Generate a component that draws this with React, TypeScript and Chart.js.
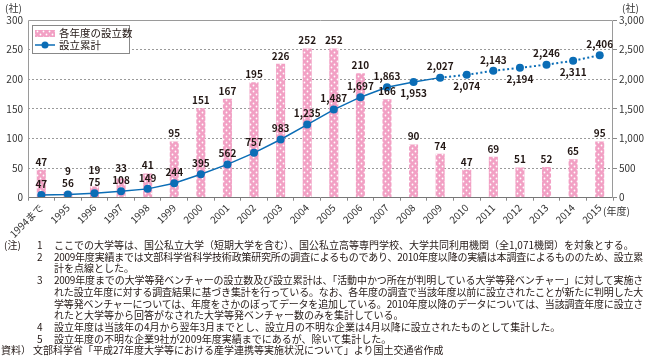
import React, { useEffect, useRef } from 'react';
import { Chart, registerables } from 'chart.js';

Chart.register(...registerables);

const categories = ['1994まで', '1995', '1996', '1997', '1998', '1999', '2000', '2001', '2002', '2003', '2004', '2005', '2006', '2007', '2008', '2009', '2010', '2011', '2012', '2013', '2014', '2015'];
const annualCounts = [47, 9, 19, 33, 41, 95, 151, 167, 195, 226, 252, 252, 210, 166, 90, 74, 47, 69, 51, 52, 65, 95];
const cumulativeCounts = [47, 56, 75, 108, 149, 244, 395, 562, 757, 983, 1235, 1487, 1697, 1863, 1953, 2027, 2074, 2143, 2194, 2246, 2311, 2406];
const leftAxis = { min: 0, max: 300, step: 50 };
const rightAxis = { min: 0, max: 3000, step: 500 };
const seriesNames = ['各年度の設立数', '設立累計'];
const dottedFromIndex = 15; // 2009年度以降は点線
const unitLabel = '(社)';
const xUnitLabel = '(年度)';

const noteLines: { mark?: string; num?: string; text: string }[] = [
  { mark: '(注)', num: '1', text: 'ここでの大学等は、国公私立大学（短期大学を含む）、国公私立高等専門学校、大学共同利用機関（全1,071機関）を対象とする。' },
  { num: '2', text: '2009年度実績までは文部科学省科学技術政策研究所の調査によるものであり、2010年度以降の実績は本調査によるもののため、設立累' },
  { text: '計を点線とした。' },
  { num: '3', text: '2009年度までの大学等発ベンチャーの設立数及び設立累計は、「活動中かつ所在が判明している大学等発ベンチャー」に対して実施さ' },
  { text: 'れた設立年度に対する調査結果に基づき集計を行っている。なお、各年度の調査で当該年度以前に設立されたことが新たに判明した大' },
  { text: '学等発ベンチャーについては、年度をさかのぼってデータを追加している。2010年度以降のデータについては、当該調査年度に設立さ' },
  { text: 'れたと大学等から回答がなされた大学等発ベンチャー数のみを集計している。' },
  { num: '4', text: '設立年度は当該年の4月から翌年3月までとし、設立月の不明な企業は4月以降に設立されたものとして集計した。' },
  { num: '5', text: '設立年度の不明な企業9社が2009年度実績までにあるが、除いて集計した。' },
];
const sourceLine = { mark: '資料）', text: '文部科学省「平成27年度大学等における産学連携等実施状況について」より国土交通省作成' };

const FONT = '"Noto Sans CJK JP", "Noto Sans", sans-serif';
const PINK = '#f2a0c4';
const BLUE = '#0b6db6';
const TEXT = '#231815';
const W = 648;
const H = 238;

const fmt = (v: number) => v.toLocaleString('en-US');

export default function App() {
  const ref = useRef<HTMLCanvasElement>(null);

  useEffect(() => {
    const canvas = ref.current!;
    const pc = document.createElement('canvas');
    pc.width = 6;
    pc.height = 6;
    const p = pc.getContext('2d')!;
    p.fillStyle = PINK;
    p.fillRect(0, 0, 6, 6);
    p.fillStyle = '#ffffff';
    p.beginPath();
    p.arc(1.5, 1.5, 0.9, 0, Math.PI * 2);
    p.arc(4.5, 4.5, 0.9, 0, Math.PI * 2);
    p.fill();
    const pattern = canvas.getContext('2d')!.createPattern(pc, 'repeat')!;

    const decor = {
      id: 'decor',
      afterDatasetsDraw(chart: any) {
        const { ctx, chartArea: a } = chart;
        ctx.save();
        ctx.strokeStyle = '#9a9a9a';
        ctx.lineWidth = 1;
        const L = Math.round(a.left) + 0.5, R = Math.round(a.right) - 0.5;
        const T = Math.round(a.top) + 0.5, B = Math.round(a.bottom) - 0.5;
        ctx.beginPath();
        ctx.moveTo(L, B); ctx.lineTo(L, T); ctx.lineTo(R, T); ctx.lineTo(R, B);
        ctx.stroke();
        ctx.strokeStyle = '#777';
        ctx.beginPath();
        ctx.moveTo(L, B); ctx.lineTo(R, B);
        ctx.stroke();

        const bars = chart.getDatasetMeta(0).data;
        const pts = chart.getDatasetMeta(1).data;
        ctx.font = `bold 10px ${FONT}`;
        ctx.fillStyle = TEXT;
        ctx.textAlign = 'center';
        ctx.textBaseline = 'middle';
        for (let i = 0; i < categories.length; i++) {
          const pt = pts[i];
          const below = i >= dottedFromIndex - 1 && i % 2 === 0;
          const lineLabelY = below ? pt.y + 11 : pt.y - 11;
          ctx.fillText(fmt(cumulativeCounts[i]), pt.x, lineLabelY);
          const bar = bars[i];
          let by = bar.y - 8;
          if (Math.abs(by - lineLabelY) < 12) by = lineLabelY - 12;
          ctx.fillText(fmt(annualCounts[i]), bar.x, by);
        }
        ctx.restore();
      },
      afterDraw(chart: any) {
        const { ctx, chartArea: a } = chart;
        ctx.save();
        ctx.font = `10px ${FONT}`;
        ctx.fillStyle = '#333';
        ctx.textBaseline = 'middle';
        ctx.textAlign = 'left';
        ctx.fillText(unitLabel, 5, 8);
        ctx.fillText(unitLabel, a.right + 9, 8);
        ctx.fillText(xUnitLabel, a.right - 10, a.bottom + 14);

        ctx.fillStyle = '#fff';
        ctx.fillRect(32, 25, 98, 29);
        ctx.strokeStyle = '#888';
        ctx.lineWidth = 1;
        ctx.strokeRect(32.5, 25.5, 97, 28);
        ctx.fillStyle = pattern;
        ctx.fillRect(35, 30, 20, 7);
        ctx.strokeStyle = BLUE;
        ctx.lineWidth = 1.5;
        ctx.beginPath();
        ctx.moveTo(35, 45); ctx.lineTo(55, 45);
        ctx.stroke();
        ctx.fillStyle = BLUE;
        ctx.beginPath();
        ctx.arc(45, 45, 3.5, 0, Math.PI * 2);
        ctx.fill();
        ctx.fillStyle = TEXT;
        ctx.font = `10.5px ${FONT}`;
        ctx.fillText(seriesNames[0], 59, 33.5);
        ctx.fillText(seriesNames[1], 59, 45);
        ctx.restore();
      },
    };

    const chart = new Chart(canvas, {
      type: 'bar',
      data: {
        labels: categories,
        datasets: [
          {
            type: 'bar',
            label: seriesNames[0],
            data: annualCounts,
            backgroundColor: pattern,
            borderWidth: 0,
            barPercentage: 0.34,
            categoryPercentage: 1,
            yAxisID: 'y',
            order: 2,
          } as any,
          {
            type: 'line',
            label: seriesNames[1],
            data: cumulativeCounts,
            borderColor: BLUE,
            backgroundColor: BLUE,
            borderWidth: 1.5,
            pointRadius: 4,
            pointBorderWidth: 0,
            pointBackgroundColor: BLUE,
            tension: 0,
            yAxisID: 'y1',
            order: 1,
            segment: {
              borderDash: (c: any) => (c.p0DataIndex >= dottedFromIndex ? [2, 2.5] : undefined),
              borderWidth: (c: any) => (c.p0DataIndex >= dottedFromIndex ? 2 : 1.5),
            },
          } as any,
        ],
      },
      options: {
        responsive: false,
        animation: false,
        layout: { padding: { top: 20, left: 0, right: 0, bottom: 0 } },
        plugins: { legend: { display: false }, tooltip: { enabled: false } },
        scales: {
          x: {
            offset: true,
            grid: { offset: true, drawOnChartArea: false, drawTicks: true, tickLength: 3, color: '#888' },
            border: { display: false },
            ticks: {
              minRotation: 45,
              maxRotation: 45,
              autoSkip: false,
              padding: 1,
              color: '#333',
              font: { family: FONT, size: 10 },
            },
            afterFit: (s: any) => { s.height = H - 197.7; },
          },
          y: {
            position: 'left',
            min: leftAxis.min,
            max: leftAxis.max,
            ticks: { stepSize: leftAxis.step, padding: 5, color: '#333', font: { family: FONT, size: 10 } },
            grid: {
              drawTicks: false,
              color: (c: any) => (c.tick && (c.tick.value === leftAxis.min || c.tick.value === leftAxis.max) ? 'rgba(0,0,0,0)' : '#9a9a9a'),
            },
            border: { display: false, dash: [2, 2] },
            afterFit: (s: any) => { s.width = 28; },
          },
          y1: {
            position: 'right',
            min: rightAxis.min,
            max: rightAxis.max,
            ticks: { stepSize: rightAxis.step, padding: 2, color: '#333', font: { family: FONT, size: 10 }, callback: (v: any) => fmt(Number(v)) },
            grid: { drawOnChartArea: false, drawTicks: true, tickLength: 4, color: '#888' },
            border: { display: false },
            afterFit: (s: any) => { s.width = 35; },
          },
        },
      },
      plugins: [decor],
    } as any);

    return () => chart.destroy();
  }, []);

  const lineH = 11.7;
  const firstTop = 239;
  const textLeft = 54;
  const textRight = 643;
  const noteStyle: React.CSSProperties = { position: 'absolute', whiteSpace: 'nowrap', fontSize: '10px', lineHeight: `${lineH}px`, color: TEXT };

  return (
    <div style={{ position: 'absolute', left: 0, top: 0, width: W, height: 361, background: '#fff', fontFamily: FONT, overflow: 'hidden' }}>
      <canvas ref={ref} width={W} height={H} style={{ position: 'absolute', left: 0, top: 0, width: W, height: H, display: 'block' }} />
      {noteLines.map((ln, i) => {
        const next = noteLines[i + 1];
        const justify = !!next && !next.num;
        const textStyle: React.CSSProperties = justify
          ? { ...noteStyle, left: textLeft, top: firstTop + i * lineH, width: textRight - textLeft, whiteSpace: 'normal', textAlign: 'justify', textAlignLast: 'justify' as any, textJustify: 'inter-character' as any, height: lineH, overflow: 'hidden', letterSpacing: '-0.3px' }
          : { ...noteStyle, left: textLeft, top: firstTop + i * lineH };
        return (
          <React.Fragment key={i}>
            {ln.mark && <div style={{ ...noteStyle, left: 4, top: firstTop + i * lineH }}>{ln.mark}</div>}
            {ln.num && <div style={{ ...noteStyle, left: 37, top: firstTop + i * lineH }}>{ln.num}</div>}
            <div style={textStyle}>{ln.text}</div>
          </React.Fragment>
        );
      })}
      <div style={{ ...noteStyle, left: 1, top: firstTop + noteLines.length * lineH }}>{sourceLine.mark}</div>
      <div style={{ ...noteStyle, left: 33, top: firstTop + noteLines.length * lineH }}>{sourceLine.text}</div>
    </div>
  );
}
